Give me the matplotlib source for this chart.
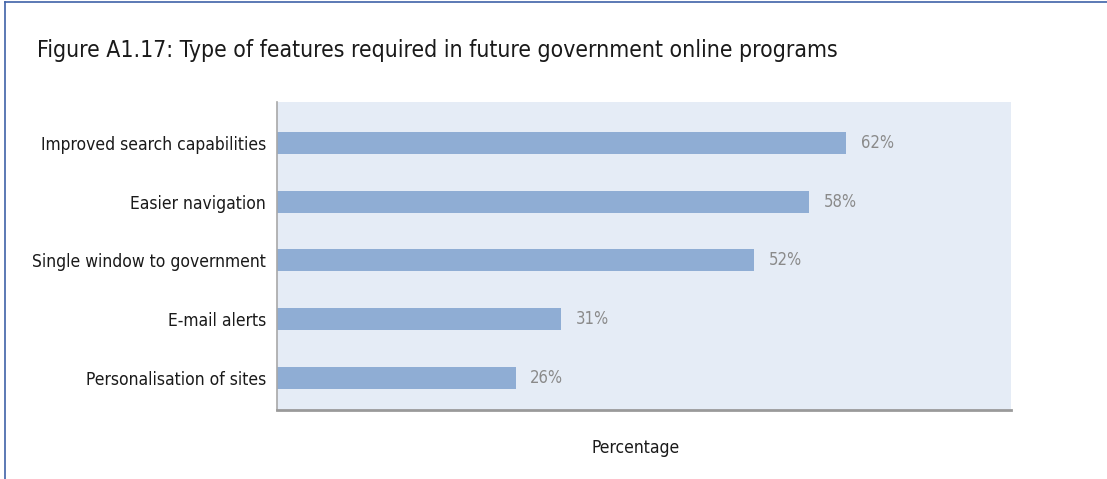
import matplotlib.pyplot as plt
from matplotlib.lines import Line2D

# survey shares, top to bottom
features = ["Improved search capabilities", "Easier navigation",
            "Single window to government", "E-mail alerts",
            "Personalisation of sites"]
shares = [62, 58, 52, 31, 26]

plt.rcParams['font.family'] = ['DejaVu Sans']
plt.rcParams['font.stretch'] = 'condensed'

fig = plt.figure(figsize=(11.07, 4.79), dpi=100)
ax = fig.add_axes([277 / 1107, 1 - 410 / 479, 734 / 1107, 308 / 479])

pos = list(range(len(features)))
ax.barh(pos, shares, height=0.375, color='#8FADD4')
for y, v in zip(pos, shares):
    ax.text(v + 1.6, y, f"{v}%", va='center', ha='left',
            fontsize=12, color='#8A8A8A')

ax.set_xlim(0, 80)
ax.set_ylim(4.55, -0.7)
ax.set_facecolor('#E5ECF6')
ax.set_yticks(pos)
ax.set_yticklabels(features, fontsize=12.5, color='#1a1a1a')
ax.set_xticks([])
ax.tick_params(axis='y', length=0, pad=8)
for s in ('top', 'right'):
    ax.spines[s].set_visible(False)
ax.spines['left'].set_color('#A8A8A8')
ax.spines['left'].set_linewidth(1.2)
ax.spines['bottom'].set_color('#9A9A9A')
ax.spines['bottom'].set_linewidth(2)

fig.text(636 / 1107, 1 - 448 / 479, "Percentage", fontsize=12.5,
         ha='center', va='center', color='#1a1a1a')
fig.text(37 / 1107, 1 - 50 / 479, "Figure A1.17: Type of features required in future government online programs",
         fontsize=16.5, va='center', ha='left', color='#1a1a1a')

# page frame lines
fig.add_artist(Line2D([5 / 1107, 1], [1 - 1.5 / 479] * 2, color='#3F62A8', lw=1.2,
                      transform=fig.transFigure))
fig.add_artist(Line2D([5 / 1107] * 2, [0, 1 - 1.5 / 479], color='#3F62A8', lw=1.2,
                      transform=fig.transFigure))

fig.savefig('out.png', dpi=100)
